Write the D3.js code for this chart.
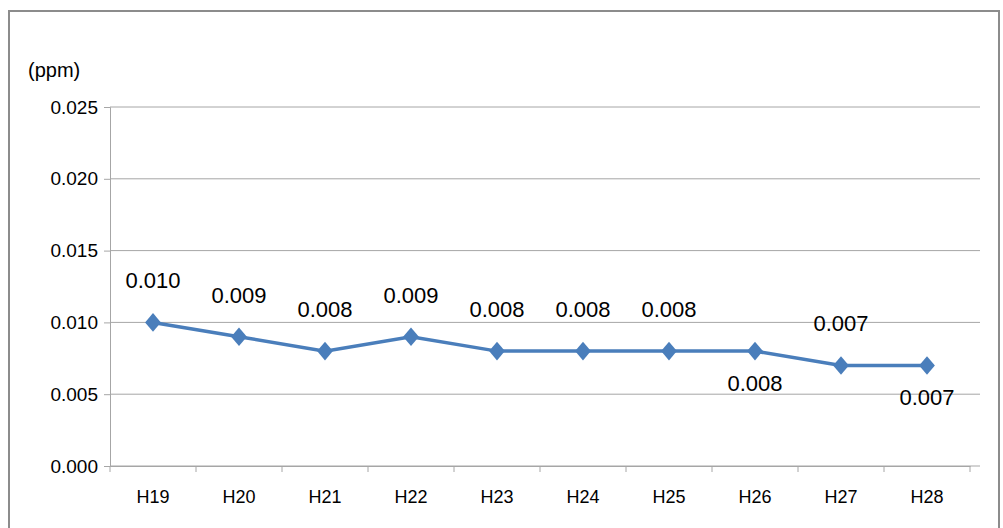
<!DOCTYPE html>
<html><head><meta charset="utf-8">
<script src="https://cdn.jsdelivr.net/npm/d3@7"></script>
<style>body{margin:0;background:#fff}</style>
</head><body>
<svg id="chart" width="1003" height="528"></svg>
<script>
var categories = ["H19","H20","H21","H22","H23","H24","H25","H26","H27","H28"];
var values = [0.010,0.009,0.008,0.009,0.008,0.008,0.008,0.008,0.007,0.007];
var labelSide = ["above","above","above","above","above","above","above","below","above","below"];
var yTicks = [0,0.005,0.010,0.015,0.020,0.025];

var svg = d3.select("#chart");
var font = "'Liberation Sans', Arial, sans-serif";

svg.append("rect").attr("x",9).attr("y",11).attr("width",990).attr("height",520)
  .attr("fill","#fff").attr("stroke","#8c8c8c").attr("stroke-width",2);

var x = d3.scaleBand().domain(categories).range([110,970]);
var y = d3.scaleLinear().domain([0,0.025]).range([466,107]);

// grid
svg.append("g").selectAll("line").data(yTicks).enter().append("line")
  .attr("x1",110).attr("x2",980)
  .attr("y1",function(d){return y(d);}).attr("y2",function(d){return y(d);})
  .attr("stroke","#a6a6a6").attr("stroke-width",1);

// y axis
var ya = svg.append("g").attr("transform","translate(110,0)")
  .call(d3.axisLeft(y).tickValues(yTicks).tickFormat(d3.format(".3f")).tickSize(6).tickPadding(6));
ya.select(".domain").attr("stroke","#a6a6a6");
ya.selectAll(".tick line").attr("stroke","#a6a6a6");
ya.selectAll("text").attr("font-family",font).attr("font-size",19).attr("fill","#000");

// x axis
var xa = svg.append("g").attr("transform","translate(0,466)")
  .call(d3.axisBottom(x).tickSize(0).tickPadding(24));
xa.select(".domain").attr("stroke","#a6a6a6");
xa.selectAll("text").attr("font-family",font).attr("font-size",18).attr("fill","#000");
xa.selectAll(".sep").data(d3.range(categories.length+1)).enter().append("line")
  .attr("x1",function(i){return 110+i*x.bandwidth();}).attr("x2",function(i){return 110+i*x.bandwidth();})
  .attr("y1",0).attr("y2",6).attr("stroke","#a6a6a6");

svg.append("text").attr("x",28).attr("y",77).attr("font-family",font).attr("font-size",20).text("(ppm)");

var cx = function(d,i){return x(categories[i])+x.bandwidth()/2;};
var line = d3.line().x(cx).y(function(d){return y(d);});
svg.append("path").datum(values).attr("d",line).attr("fill","none")
  .attr("stroke","#4a7ebb").attr("stroke-width",3.5);

svg.selectAll(".pt").data(values).enter().append("path")
  .attr("d",d3.symbol(d3.symbolDiamond2? d3.symbolDiamond2 : d3.symbolDiamond,220))
  .attr("transform",function(d,i){return "translate("+cx(d,i)+","+y(d)+") scale(0.85,1)";})
  .attr("fill","#4a7ebb");

svg.selectAll(".lbl").data(values).enter().append("text")
  .attr("x",cx).attr("y",function(d,i){return y(d)+(labelSide[i]=="above"?-34:40);})
  .attr("text-anchor","middle").attr("font-family",font).attr("font-size",22)
  .text(function(d){return d3.format(".3f")(d);});
</script>
</body></html>
